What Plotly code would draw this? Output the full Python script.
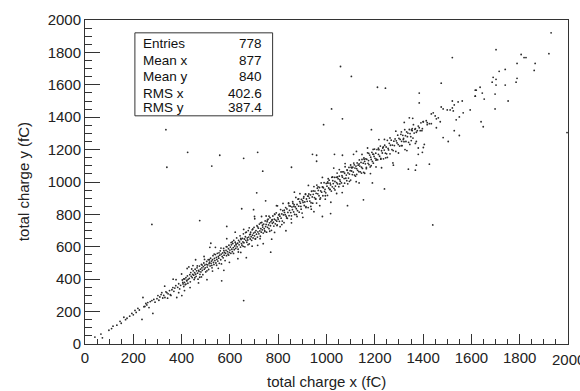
import plotly.graph_objects as go

# ---- data (fC) ----
low_x = [41, 66, 72, 99, 110, 116, 132, 145, 150, 161, 168, 174, 185, 194, 200, 207, 212, 219, 225, 240,
         244, 248, 252, 256, 260, 265, 270, 277, 285, 290, 298, 302, 306, 310, 315, 318, 322, 326, 331, 335,
         339, 344, 350, 356, 360, 364, 368, 372, 376, 380, 384, 388, 392, 396, 401, 405, 409, 413, 418, 422, 426]
low_y = [43, 61, 38, 85, 95, 110, 116, 140, 128, 165, 150, 159, 172, 189, 180, 207, 195, 220, 210, 287,
         230, 232, 250, 241, 256, 225, 262, 268, 275, 258, 280, 299, 270, 290, 305, 317, 284, 300, 287, 322,
         317, 310, 330, 300, 335, 348, 325, 345, 360, 287, 350, 372, 340, 362, 299, 380, 355, 402, 370, 390, 375]

mid1_x = [403, 406, 409, 412, 415, 418, 421, 424, 427, 430, 432, 434, 436, 438, 440, 442, 444, 446, 448, 450,
          452, 454, 456, 458, 460, 462, 464, 466, 468, 470, 472, 474, 476, 478, 480, 482, 484, 486, 488, 490,
          492, 494, 496, 498, 500, 502, 504, 506, 508, 510, 512, 514, 516, 518, 520, 522, 524, 526, 528, 530,
          532, 534, 536, 538, 540, 542, 544, 546, 548, 550, 552, 554, 556, 558, 560, 562, 564, 568, 570, 572,
          574, 576, 578, 580, 582, 584, 586, 588, 590, 592, 594, 596, 598, 600]
mid1_y = [395, 371, 402, 380, 366, 410, 392, 420, 399, 476, 405, 428, 384, 441, 418, 463, 410, 430, 452, 425,
          398, 440, 462, 431, 418, 452, 470, 437, 400, 455, 448, 481, 430, 462, 445, 492, 470, 455, 428, 478,
          500, 462, 487, 470, 445, 492, 510, 475, 488, 520, 460, 497, 505, 482, 530, 498, 512, 470, 520, 545,
          503, 490, 528, 515, 552, 500, 535, 522, 560, 512, 540, 530, 498, 548, 575, 520, 555, 540, 562, 532,
          590, 548, 565, 515, 560, 578, 545, 600, 570, 555, 588, 610, 565, 580]

mid2_x = [602, 604, 606, 608, 610, 612, 614, 616, 618, 620, 622, 624, 626, 628, 630, 632, 634, 636, 638, 640,
          642, 644, 646, 648, 650, 652, 654, 656, 658, 660, 662, 664, 666, 668, 670, 672, 674, 676, 678, 680,
          682, 684, 686, 688, 690, 692, 694, 696, 698, 700, 702, 704, 706, 708, 710, 712, 714, 716, 718, 720,
          722, 724, 726, 728, 730, 732, 734, 736, 738, 740, 742, 744, 746, 748, 750, 752, 754, 756, 758, 760,
          762, 764, 766, 768, 770, 772, 774, 776, 778, 780, 782, 784, 786, 788, 790, 792, 794, 796, 798, 800]
mid2_y = [598, 560, 612, 585, 570, 620, 595, 640, 582, 605, 628, 590, 612, 655, 600, 622, 585, 640, 612, 630,
          668, 598, 645, 620, 610, 652, 630, 680, 625, 648, 600, 662, 640, 690, 628, 655, 642, 700, 660, 618,
          675, 648, 690, 662, 640, 705, 672, 655, 685, 720, 668, 690, 650, 700, 678, 730, 660, 692, 715, 680,
          740, 698, 665, 712, 690, 750, 705, 722, 685, 740, 712, 700, 760, 725, 738, 690, 755, 720, 770, 735,
          712, 748, 780, 730, 755, 702, 765, 745, 790, 752, 728, 770, 800, 742, 765, 810, 758, 735, 780, 770]

mid3_x = [802, 805, 807, 810, 812, 815, 817, 819, 822, 824, 826, 829, 831, 833, 836, 838, 840, 843, 845, 847,
          850, 852, 854, 857, 859, 861, 864, 866, 868, 871, 873, 875, 878, 880, 882, 885, 887, 889, 892, 894,
          896, 899, 901, 903, 906, 908, 910, 913, 915, 917, 920, 922, 924, 927, 929, 931, 934, 936, 938, 941,
          943, 945, 948, 950, 952, 955, 957, 959, 962, 964, 966, 969, 971, 973, 976, 978, 980, 983, 985, 987,
          990, 992, 994, 997, 999]
mid3_y = [797, 757, 789, 830, 777, 803, 759, 823, 797, 749, 812, 798, 842, 789, 834, 776, 812, 867, 792, 825,
          851, 811, 771, 846, 829, 868, 815, 860, 800, 846, 905, 835, 861, 823, 894, 851, 814, 879, 869, 849,
          893, 808, 885, 874, 909, 855, 877, 926, 848, 895, 881, 913, 842, 926, 901, 882, 921, 872, 943, 908,
          869, 924, 972, 904, 944, 897, 930, 870, 962, 927, 948, 915, 966, 894, 945, 994, 937, 969, 915, 964,
          996, 942, 955, 933, 991]

hi1_x = [1002, 1004, 1006, 1009, 1011, 1013, 1015, 1017, 1020, 1022, 1024, 1026, 1028, 1031, 1033, 1035, 1037,
         1040, 1042, 1044, 1046, 1048, 1051, 1053, 1055, 1057, 1060, 1062, 1064, 1066, 1069, 1071, 1073, 1075,
         1077, 1080, 1082, 1084, 1086, 1089, 1091, 1093, 1095, 1098, 1100, 1102, 1104, 1107, 1109, 1111, 1113,
         1116, 1118, 1120, 1122, 1125, 1127, 1129, 1131, 1134, 1136, 1138, 1140, 1143, 1145, 1147, 1149, 1152,
         1154, 1156, 1158, 1161, 1163, 1165, 1167, 1170, 1172, 1174, 1176, 1179, 1181, 1183, 1185, 1188, 1190,
         1192, 1194, 1197, 1199]
hi1_y = [974, 917, 993, 963, 1011, 954, 993, 982, 944, 1029, 970, 1008, 990, 961, 1029, 1003, 975,
         1029, 996, 1055, 988, 1020, 971, 1036, 1014, 1004, 1062, 994, 1039, 1030, 974, 1063, 1021, 1054,
         1094, 1023, 1043, 1008, 1072, 1056, 1024, 1090, 1049, 1070, 1012, 1091, 1068, 1046, 1091, 1061, 1117,
         1043, 1086, 1036, 1098, 1082, 1118, 1072, 1104, 1064, 1136, 1098, 1063, 1121, 1091, 1139, 1084, 1116,
         1060, 1140, 1127, 1112, 1143, 1082, 1140, 1180, 1115, 1132, 1107, 1166, 1093, 1153, 1139, 1183, 1127,
         1172, 1116, 1158, 1203]

hi2_x = [1201, 1204, 1207, 1209, 1212, 1215, 1217, 1220, 1223, 1225, 1228, 1231, 1233, 1236, 1239, 1241, 1244,
         1247, 1249, 1252, 1255, 1257, 1260, 1263, 1265, 1268, 1271, 1273, 1276, 1279, 1281, 1284, 1287, 1289,
         1292, 1295, 1297, 1300, 1303, 1305, 1308, 1311, 1313, 1316, 1319, 1321, 1324, 1327, 1329, 1332, 1335,
         1337, 1340, 1343, 1346, 1349, 1352, 1355, 1355, 1358, 1360, 1363, 1366, 1368, 1372, 1376, 1380, 1384,
         1388, 1391, 1395, 1397, 1400, 1310, 1325, 1351, 1372, 1380, 1401, 1405, 1380, 1426, 1339, 1368, 1372,
         1397, 1318, 1343]
hi2_y = [1146, 1178, 1141, 1200, 1137, 1170, 1199, 1159, 1222, 1141, 1193, 1179, 1210, 1143, 1197, 1227, 1178,
         1216, 1174, 1257, 1207, 1198, 1239, 1174, 1227, 1258, 1200, 1228, 1194, 1252, 1225, 1266, 1189, 1254,
         1241, 1289, 1231, 1269, 1222, 1263, 1294, 1251, 1224, 1288, 1269, 1249, 1323, 1286, 1250, 1309, 1280,
         1302, 1245, 1324, 1299, 1280, 1321, 1329, 1317, 1271, 1354, 1302, 1325, 1329, 1307, 1317, 1345, 1335,
         1317, 1365, 1317, 1329, 1372, 1225, 1200, 1256, 1250, 1210, 1213, 1232, 1171, 1110, 1079, 1073, 1104,
         1183, 1262, 1396]

top_x = [1401, 1413, 1417, 1426, 1434, 1417, 1434, 1442, 1450, 1455, 1463, 1471, 1455, 1483, 1504, 1529, 1550,
         1475, 1483, 1500, 1512, 1525, 1521, 1566, 1595, 1550, 1537, 1562, 1545, 1529, 1521, 1475, 1384, 1384,
         1636, 1616, 1645, 1698, 1616, 1653, 1752, 1698, 1640, 1649, 1690, 1702, 1686, 1702, 1740, 1789, 1785,
         1715, 1740, 1860, 1864, 1789, 1818, 1826, 1806, 1921, 1930, 1702, 1616, 1620]
top_y = [1372, 1378, 1366, 1360, 1360, 1354, 1420, 1427, 1408, 1390, 1396, 1372, 1335, 1274, 1250, 1317, 1287,
         1463, 1451, 1445, 1445, 1439, 1457, 1427, 1445, 1402, 1384, 1500, 1494, 1476, 1500, 1610, 1549, 1488,
         1585, 1567, 1549, 1543, 1530, 1512, 1500, 1451, 1372, 1341, 1646, 1634, 1616, 1598, 1598, 1640, 1616,
         1683, 1695, 1689, 1732, 1732, 1768, 1768, 1787, 1792, 1921, 1817, 1530, 1567]

spread_x = [330, 342, 353, 365, 377, 388, 400, 412, 423, 435, 447, 458, 470, 482, 493, 505, 517, 528, 540, 552,
            563, 575, 587, 598, 610, 622, 633, 645, 657, 668, 680, 692, 703, 715, 727, 738, 750, 762, 773, 785,
            797, 808, 820, 832, 843, 855, 867, 878, 890, 902, 913, 925, 937, 948, 960, 972, 983, 995, 1007, 1018,
            1030, 1042, 1053, 1065, 1077, 1088, 1100, 1112, 1123, 1135, 1147, 1158, 1170, 1182, 1193, 1205, 1217,
            1228, 1240, 1252, 1263, 1275, 1287, 1298, 1310, 1322, 1333, 1345, 1357, 1368]
spread_y = [357, 283, 304, 400, 397, 317, 432, 330, 466, 348, 484, 520, 377, 414, 540, 397, 597, 450, 597, 467,
            592, 455, 650, 504, 631, 690, 527, 565, 707, 533, 717, 604, 773, 609, 748, 619, 790, 789, 647, 689,
            853, 724, 868, 699, 871, 748, 937, 787, 928, 782, 923, 979, 832, 817, 981, 854, 1028, 894, 1020, 875,
            1086, 929, 1077, 935, 1114, 989, 1105, 1171, 1002, 994, 1170, 1054, 1210, 1052, 1201, 1093, 1262,
            1088, 1263, 1152, 1272, 1118, 1314, 1179, 1309, 1368, 1194, 1232, 1393, 1238]

fill_x = [455, 465, 475, 485, 495, 505, 515, 525, 535, 545, 555, 565, 575, 585, 595, 605, 615, 625, 635, 645,
          655, 665, 675, 685, 695, 705, 715, 725, 735, 745, 755, 765, 775, 785, 795, 805, 815, 825, 835, 845,
          855, 865, 875, 885, 895, 905, 915, 925, 935, 945, 955, 965, 975, 985, 995, 1005, 1015, 1025, 1035, 1045,
          1055, 1065, 1075, 1085, 1095, 1105, 1115, 1125, 1135, 1145, 1155, 1165, 1175, 1185, 1195, 1205, 1215,
          1225, 1235, 1245]
fill_y = [409, 482, 412, 487, 522, 452, 520, 485, 555, 486, 563, 494, 576, 601, 549, 626, 559, 618, 568, 652,
          603, 688, 613, 678, 710, 648, 723, 650, 733, 694, 765, 696, 767, 802, 731, 802, 737, 826, 778, 853,
          791, 849, 799, 896, 832, 900, 842, 913, 849, 945, 894, 970, 902, 968, 915, 1000, 954, 1031, 951, 1031,
          988, 1063, 993, 1074, 1004, 1087, 1106, 1047, 1111, 1055, 1148, 1090, 1177, 1101, 1171, 1135, 1209,
          1145, 1216, 1149]

out_x = [1058, 1103, 1211, 1021, 1066, 988, 1186, 335, 425, 339, 558, 657, 715, 525, 736, 855, 942, 959, 959,
         1033, 1066, 1124, 711, 748, 649, 698, 475, 587, 521, 657, 1017, 769, 1153, 1190, 277, 236, 281, 566,
         1087, 983, 1277, 1240, 1521, 1996, 1440, 1244, 793, 860, 731, 702]
out_y = [1713, 1652, 1585, 1451, 1390, 1354, 1323, 1323, 1183, 1091, 1165, 1146, 1183, 1098, 1067, 1091, 1171,
         1128, 1165, 1171, 1165, 1189, 933, 884, 835, 829, 762, 726, 622, 268, 805, 567, 890, 994, 738, 152, 189,
         390, 854, 787, 1104, 957, 1768, 1305, 735, 1579, 854, 878, 787, 787]

x_tick_vals = [0, 200, 400, 600, 800, 1000, 1200, 1400, 1600, 1800]
x_last_tick = 2000
stats_labels = ["Entries", "Mean x", "Mean y", "RMS x", "RMS y"]
stats_values = ["778", "877", "840", "402.6", "387.4"]

x_all = low_x + mid1_x + mid2_x + mid3_x + hi1_x + hi2_x + top_x + spread_x + fill_x + out_x
y_all = low_y + mid1_y + mid2_y + mid3_y + hi1_y + hi2_y + top_y + spread_y + fill_y + out_y

FONT = "Liberation Sans, Arial, Helvetica, sans-serif"
TXT = "#222222"

fig = go.Figure()
fig.add_trace(go.Scatter(
    x=x_all, y=y_all, mode="markers",
    marker=dict(size=1.8, color="#2a2a2a", line=dict(width=0)),
    hoverinfo="skip", showlegend=False,
))

axis_common = dict(
    range=[0, 2000], showgrid=False, zeroline=False,
    showline=True, linecolor="#333333", linewidth=1, mirror=True,
    ticks="inside", tickcolor="#333333", tickwidth=1,
    tickfont=dict(family=FONT, size=15, color=TXT),
)
fig.update_xaxes(**axis_common, ticklen=10, tickmode="array", tickvals=x_tick_vals,
                 minor=dict(ticks="inside", dtick=50, tick0=0, ticklen=5, tickcolor="#333333", showgrid=False))
fig.update_yaxes(**axis_common, ticklen=15, dtick=200, tick0=0,
                 minor=dict(ticks="inside", dtick=50, tick0=0, ticklen=7, tickcolor="#333333", showgrid=False))

L, R, B, T = 85, 569, 344, 16
def px(xp):
    return (xp - L) / (R - L)
def py(yp):
    return (B - yp) / (B - T)

# last x tick label (clipped by the window edge as in the reference)
fig.add_annotation(xref="x", yref="paper", x=x_last_tick, y=py(360), text=str(x_last_tick), showarrow=False,
                   xanchor="center", yanchor="middle", font=dict(family=FONT, size=15, color=TXT))
# axis titles
fig.add_annotation(xref="paper", yref="paper", x=px(327), y=py(382), text="total charge x (fC)",
                   showarrow=False, xanchor="center", yanchor="middle", font=dict(family=FONT, size=15, color=TXT))
fig.add_annotation(xref="paper", yref="paper", x=px(23), y=py(180), text="total charge y (fC)", textangle=-90,
                   showarrow=False, xanchor="center", yanchor="middle", font=dict(family=FONT, size=15, color=TXT))

# stats box
fig.add_shape(type="rect", xref="paper", yref="paper",
              x0=px(135), x1=px(273), y0=py(113), y1=py(29),
              line=dict(color="#333333", width=1), fillcolor="white", layer="above")
row_y = [40, 57, 73, 90, 105]
for lab, val, yy in zip(stats_labels, stats_values, row_y):
    fig.add_annotation(xref="paper", yref="paper", x=px(141), y=py(yy), text=lab, showarrow=False,
                       xanchor="left", yanchor="middle", font=dict(family=FONT, size=13.5, color="#111111"))
    fig.add_annotation(xref="paper", yref="paper", x=px(264), y=py(yy), text=val, showarrow=False,
                       xanchor="right", yanchor="middle", font=dict(family=FONT, size=13.5, color="#111111"))

fig.update_layout(
    width=580, height=391,
    margin=dict(l=L, r=580 - R, t=T, b=391 - B),
    paper_bgcolor="white", plot_bgcolor="white",
    font=dict(family=FONT),
)

fig.write_html("out.html")
